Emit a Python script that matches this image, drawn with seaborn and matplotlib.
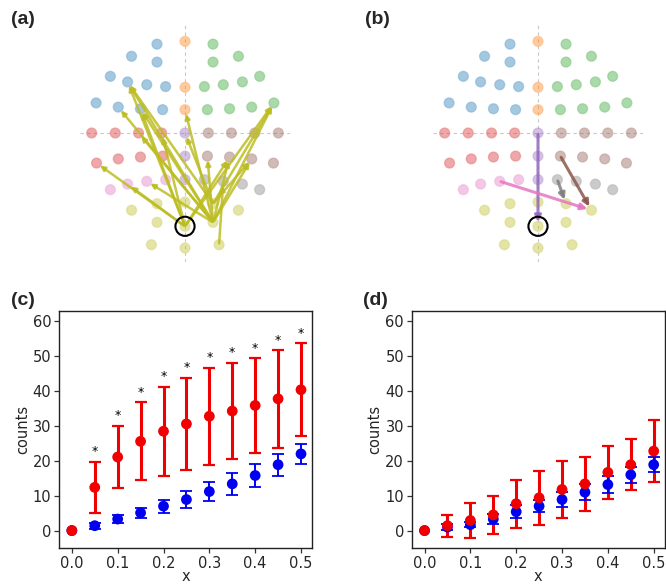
import numpy as np
import pandas as pd
import seaborn as sns
import matplotlib.pyplot as plt

# --- electrode layout (head seen from above, nose up) ---
blue_x = [-1.2, -2.29, -1.2, -3.2, -2.46, -1.64, -0.83, -3.81, -2.86, -1.91, -0.96]
blue_y = [3.81, 3.29, 3.04, 2.43, 2.19, 2.07, 1.99, 1.29, 1.11, 1.04, 1.0]
orange_x = [0.0, 0.0, 0.0]
orange_y = [3.93, 1.96, 1.0]
green_x = [1.2, 2.29, 1.2, 3.2, 2.46, 1.64, 0.83, 3.81, 2.86, 1.91, 0.96]
green_y = [3.81, 3.29, 3.04, 2.43, 2.19, 2.07, 1.99, 1.29, 1.11, 1.04, 1.0]
red_x = [-4.0, -2.99, -1.99, -1.0, -3.79, -2.86, -1.91, -0.96]
red_y = [0.0, 0.0, 0.0, 0.0, -1.29, -1.11, -1.03, -0.99]
purple_x = [0.0, 0.0, 0.0]
purple_y = [0.0, -0.99, -2.0]
brown_x = [4.0, 2.99, 1.99, 1.0, 3.79, 2.86, 1.91, 0.96]
brown_y = [0.0, 0.0, 0.0, 0.0, -1.29, -1.11, -1.03, -0.99]
pink_x = [-3.2, -2.46, -1.64, -0.83]
pink_y = [-2.43, -2.19, -2.07, -2.0]
gray_x = [3.2, 2.46, 1.64, 0.83]
gray_y = [-2.43, -2.19, -2.07, -2.0]
olive_x = [-2.29, -1.2, 0.0, 1.2, 2.29, -1.2, 0.0, 1.2, -1.44, 0.0, 1.46]
olive_y = [-3.31, -3.03, -2.96, -3.03, -3.31, -3.83, -4.0, -3.83, -4.79, -4.93, -4.79]

group_names = ['blue', 'orange', 'green', 'red', 'purple', 'brown', 'pink', 'gray', 'olive']
group_x = [blue_x, orange_x, green_x, red_x, purple_x, brown_x, pink_x, gray_x, olive_x]
group_y = [blue_y, orange_y, green_y, red_y, purple_y, brown_y, pink_y, gray_y, olive_y]

seed_node = ('olive', 6)

# (source group, idx, target group, idx)
edges_a = [
    ('olive', 7, 'blue', 4), ('olive', 7, 'blue', 9), ('olive', 7, 'blue', 8),
    ('olive', 7, 'red', 2), ('olive', 7, 'orange', 2), ('olive', 7, 'green', 7),
    ('olive', 7, 'brown', 7), ('olive', 7, 'brown', 6), ('olive', 7, 'brown', 5),
    ('olive', 7, 'pink', 2),
    ('olive', 6, 'blue', 4), ('olive', 6, 'blue', 9), ('olive', 6, 'red', 3),
    ('olive', 6, 'green', 7), ('olive', 6, 'brown', 6), ('olive', 6, 'red', 4),
    ('olive', 6, 'pink', 1),
    ('olive', 3, 'blue', 4), ('olive', 3, 'green', 7), ('olive', 3, 'brown', 5),
    ('olive', 3, 'purple', 0),
    ('olive', 10, 'gray', 2),
]
edges_b = [
    ('purple', 0, 'olive', 6),
    ('pink', 2, 'olive', 4),
    ('brown', 7, 'olive', 4),
    ('gray', 3, 'olive', 3),
]

# --- counts vs x ---
x_vals = [0.0, 0.05, 0.1, 0.15, 0.2, 0.25, 0.3, 0.35, 0.4, 0.45, 0.5]
c_red_mean = [0.0, 12.4, 21.1, 25.6, 28.5, 30.6, 32.8, 34.3, 35.9, 37.8, 40.4]
c_red_err = [0.0, 7.4, 9.0, 11.2, 12.8, 13.2, 13.9, 13.8, 13.5, 14.0, 13.4]
c_blue_mean = [0.0, 1.4, 3.3, 5.1, 7.0, 8.9, 11.2, 13.4, 15.8, 18.9, 22.0]
c_blue_err = [0.0, 0.9, 1.1, 1.5, 1.9, 2.4, 2.8, 3.1, 3.2, 3.2, 2.9]
c_signif = [False, True, True, True, True, True, True, True, True, True, True]

d_red_mean = [0.0, 1.4, 2.9, 4.5, 7.7, 9.4, 11.8, 13.4, 16.7, 18.9, 22.8]
d_red_err = [0.0, 3.2, 5.0, 5.5, 6.9, 7.8, 8.1, 7.8, 7.7, 7.3, 9.0]
d_blue_mean = [0.0, 1.0, 1.7, 3.3, 5.4, 7.0, 8.9, 11.0, 13.2, 16.0, 18.9]
d_blue_err = [0.0, 0.8, 0.8, 1.5, 1.8, 1.8, 2.2, 2.3, 2.4, 2.3, 2.2]

sns.set_style('ticks')
plt.rcParams['font.family'] = ['DejaVu Sans']

palette = sns.color_palette('tab10')
group_color = dict(zip(group_names, palette[:9]))

nodes = pd.DataFrame({
    'x': [v for xs in group_x for v in xs],
    'y': [v for ys in group_y for v in ys],
    'group': [g for g, xs in zip(group_names, group_x) for _ in xs],
})


def node_pos(g, i):
    k = group_names.index(g)
    return group_x[k][i], group_y[k][i]


fig = plt.figure(figsize=(6.66, 5.85), dpi=100)

ax_a = fig.add_axes([80 / 666, 1 - 262 / 585, 210 / 666, 237 / 585])
ax_b = fig.add_axes([433 / 666, 1 - 262 / 585, 210 / 666, 237 / 585])


def draw_head(ax, edges, edge_colors, lw, head):
    ax.axhline(0, color='#c8c8c8', lw=0.8, ls=(0, (3, 3)), zorder=0)
    ax.axvline(0, color='#c8c8c8', lw=0.8, ls=(0, (3, 3)), zorder=0)
    sns.scatterplot(data=nodes, x='x', y='y', hue='group', palette=group_color,
                    s=50, alpha=0.4, linewidth=1.0, legend=False, ax=ax, zorder=2)
    # darker rims
    for g, xs, ys in zip(group_names, group_x, group_y):
        ax.scatter(xs, ys, s=50, facecolor='none', edgecolor=group_color[g],
                   alpha=0.35, linewidth=1.0, zorder=2)
    for (sg, si, tg, ti), col in zip(edges, edge_colors):
        ax.annotate('', xy=node_pos(tg, ti), xytext=node_pos(sg, si),
                    arrowprops=dict(arrowstyle='-|>', color=col, lw=lw,
                                    mutation_scale=head, shrinkA=1, shrinkB=3,
                                    alpha=0.85),
                    zorder=3)
    sx, sy = node_pos(*seed_node)
    ax.scatter([sx], [sy], s=190, facecolor='none', edgecolor='black',
               linewidth=1.5, zorder=4)
    ax.set_xlim(-4.5, 4.5)
    ax.set_ylim(-5.53, 4.63)
    ax.axis('off')


draw_head(ax_a, edges_a, ['#bcbd22'] * len(edges_a), 1.8, 7)
draw_head(ax_b, edges_b, [group_color[e[0]] for e in edges_b], 2.2, 9)

ax_c = fig.add_axes([59 / 666, 37 / 585, 253 / 666, 237 / 585])
ax_d = fig.add_axes([411.7 / 666, 37 / 585, 253 / 666, 237 / 585])


def draw_counts(ax, red_m, red_e, blue_m, blue_e):
    ax.errorbar(x_vals[1:], red_m[1:], yerr=red_e[1:], fmt='none', ecolor='#f00000',
                elinewidth=2.2, capsize=4.3, capthick=1.6, zorder=2)
    ax.errorbar(x_vals[1:], blue_m[1:], yerr=blue_e[1:], fmt='none', ecolor='#0000f0',
                elinewidth=1.4, capsize=4.0, capthick=1.3, zorder=3)
    df = pd.DataFrame({'x': x_vals + x_vals, 'counts': blue_m + red_m,
                       'cond': ['blue'] * len(x_vals) + ['red'] * len(x_vals)})
    sns.scatterplot(data=df, x='x', y='counts', hue='cond',
                    palette={'blue': '#0000f0', 'red': '#f00000'},
                    s=60, linewidth=0, legend=False, ax=ax, zorder=4)
    ax.set_xlim(-0.028, 0.524)
    ax.set_ylim(-5, 63)
    ax.set_xticks([0.0, 0.1, 0.2, 0.3, 0.4, 0.5])
    ax.set_yticks([0, 10, 20, 30, 40, 50, 60])
    ax.set_xticklabels(['0.0', '0.1', '0.2', '0.3', '0.4', '0.5'])
    ax.tick_params(labelsize=10.5, length=3.5, width=0.9, color='#333333', pad=2)
    for sp in ax.spines.values():
        sp.set_linewidth(1.0)
        sp.set_color('#222222')
    ax.set_xlabel('x', fontsize=10.5, labelpad=-1)
    ax.set_ylabel('counts', fontsize=10.5, labelpad=2)


draw_counts(ax_c, c_red_mean, c_red_err, c_blue_mean, c_blue_err)
draw_counts(ax_d, d_red_mean, d_red_err, d_blue_mean, d_blue_err)

for xv, m, e, s in zip(x_vals, c_red_mean, c_red_err, c_signif):
    if s:
        ax_c.annotate('*', (xv, m + e), xytext=(0, 2.5), textcoords='offset points',
                      ha='center', va='bottom', fontsize=9, color='black')

for lab, (px, py) in zip(['(a)', '(b)', '(c)', '(d)'],
                         [(11, 11), (365, 11), (11, 292), (363, 292)]):
    fig.text(px / 666, 1 - py / 585, lab, fontsize=14, fontweight='bold',
             family=['Liberation Sans', 'DejaVu Sans'], ha='left', va='top')

fig.savefig('out.png', dpi=100)
